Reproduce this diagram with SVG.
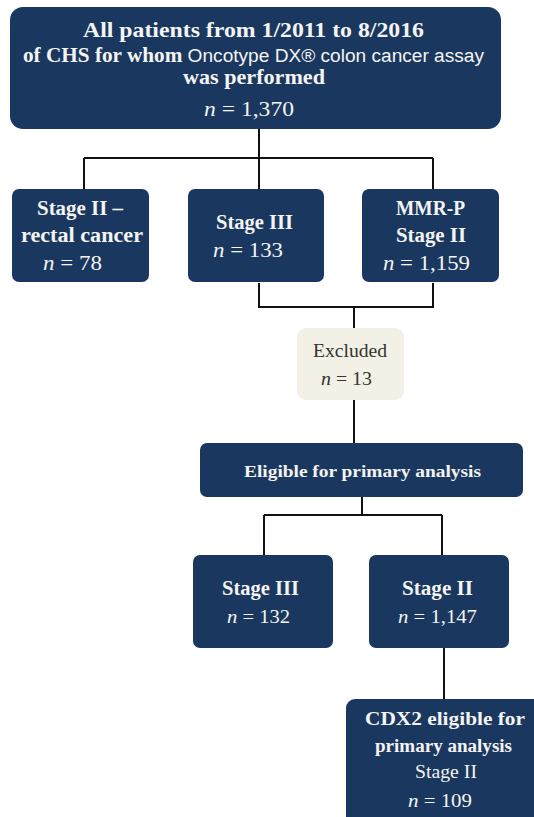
<svg xmlns="http://www.w3.org/2000/svg" width="534" height="817" viewBox="0 0 534 817">
<style>
.nav{fill:#1a375f;}
.exc{fill:#f3f1e5;}
.t{font-family:"Liberation Serif","DejaVu Serif",serif;fill:#f4f4f2;text-anchor:middle;}
.b{font-weight:bold;}
.s{font-family:"Liberation Sans",Arial,sans-serif;font-weight:normal;}
.i{font-style:italic;}
.d{fill:#333;}
.c{fill:none;stroke:#111;stroke-width:2;}
</style>
<g id="connectors">
<path class="c" d="M259 129 V158 M84 158 H433 M84 158 V189 M259 158 V189 M433 158 V189"/>
<path class="c" d="M259 283 V307 H433 V283 M354 307 V329"/>
<path class="c" d="M354 400 V443"/>
<path class="c" d="M362 497 V515 M264 515 H442 M264 515 V555 M442 515 V555"/>
<path class="c" d="M444 648 V699"/>
</g>
<g id="all-patients">
<rect class="nav" x="10" y="7" width="491" height="122" rx="13"/>
<text class="t b" x="253.5" y="37" font-size="21" textLength="341" lengthAdjust="spacingAndGlyphs">All patients from 1/2011 to 8/2016</text>
<text class="t b" x="253.5" y="62" font-size="20" textLength="461" lengthAdjust="spacingAndGlyphs">of CHS for whom <tspan class="s" font-size="18">Oncotype DX® colon cancer assay</tspan></text>
<text class="t b" x="254" y="84" font-size="21" textLength="142" lengthAdjust="spacingAndGlyphs">was performed</text>
<text class="t" x="249" y="116" font-size="20" textLength="90" lengthAdjust="spacingAndGlyphs"><tspan class="i">n</tspan> = 1,370</text>
</g>
<g id="rectal">
<rect class="nav" x="12" y="189" width="137" height="93" rx="7"/>
<text class="t b" x="80" y="215" font-size="20" textLength="86" lengthAdjust="spacingAndGlyphs">Stage II –</text>
<text class="t b" x="82" y="242" font-size="20" textLength="122" lengthAdjust="spacingAndGlyphs">rectal cancer</text>
<text class="t" x="72.5" y="270" font-size="20" textLength="59" lengthAdjust="spacingAndGlyphs"><tspan class="i">n</tspan> = 78</text>
</g>
<g id="stage3a">
<rect class="nav" x="188" y="189" width="136" height="93" rx="7"/>
<text class="t b" x="254.5" y="229" font-size="20" textLength="77" lengthAdjust="spacingAndGlyphs">Stage III</text>
<text class="t" x="248" y="257" font-size="20" textLength="70" lengthAdjust="spacingAndGlyphs"><tspan class="i">n</tspan> = 133</text>
</g>
<g id="mmrp">
<rect class="nav" x="362" y="189" width="137" height="93" rx="7"/>
<text class="t b" x="430.5" y="215" font-size="20" textLength="69" lengthAdjust="spacingAndGlyphs">MMR-P</text>
<text class="t b" x="431" y="242" font-size="20" textLength="70" lengthAdjust="spacingAndGlyphs">Stage II</text>
<text class="t" x="426.5" y="270" font-size="20" textLength="87" lengthAdjust="spacingAndGlyphs"><tspan class="i">n</tspan> = 1,159</text>
</g>
<g id="excluded">
<rect class="exc" x="297" y="328" width="107" height="72" rx="9"/>
<text class="t d" x="350" y="357" font-size="18" textLength="74" lengthAdjust="spacingAndGlyphs">Excluded</text>
<text class="t d" x="346.5" y="385" font-size="18" textLength="51" lengthAdjust="spacingAndGlyphs"><tspan class="i">n</tspan> = 13</text>
</g>
<g id="eligible">
<rect class="nav" x="200" y="443" width="323" height="54" rx="7"/>
<text class="t b" x="362.5" y="477" font-size="17" textLength="237" lengthAdjust="spacingAndGlyphs">Eligible for primary analysis</text>
</g>
<g id="stage3b">
<rect class="nav" x="193" y="555" width="140" height="93" rx="7"/>
<text class="t b" x="260.5" y="595" font-size="20" textLength="77" lengthAdjust="spacingAndGlyphs">Stage III</text>
<text class="t" x="258.5" y="623" font-size="18" textLength="63" lengthAdjust="spacingAndGlyphs"><tspan class="i">n</tspan> = 132</text>
</g>
<g id="stage2">
<rect class="nav" x="369" y="555" width="140" height="93" rx="7"/>
<text class="t b" x="437.5" y="595" font-size="20" textLength="71" lengthAdjust="spacingAndGlyphs">Stage II</text>
<text class="t" x="437.5" y="623" font-size="18" textLength="79" lengthAdjust="spacingAndGlyphs"><tspan class="i">n</tspan> = 1,147</text>
</g>
<g id="cdx2">
<rect class="nav" x="346" y="699" width="200" height="130" rx="9"/>
<text class="t b" x="445" y="725" font-size="18.5" textLength="160" lengthAdjust="spacingAndGlyphs">CDX2 eligible for</text>
<text class="t b" x="443.5" y="752" font-size="18.5" textLength="137" lengthAdjust="spacingAndGlyphs">primary analysis</text>
<text class="t" x="446" y="778" font-size="18.5" textLength="62" lengthAdjust="spacingAndGlyphs">Stage II</text>
<text class="t" x="440" y="807" font-size="18.5" textLength="64" lengthAdjust="spacingAndGlyphs"><tspan class="i">n</tspan> = 109</text>
</g>
</svg>
